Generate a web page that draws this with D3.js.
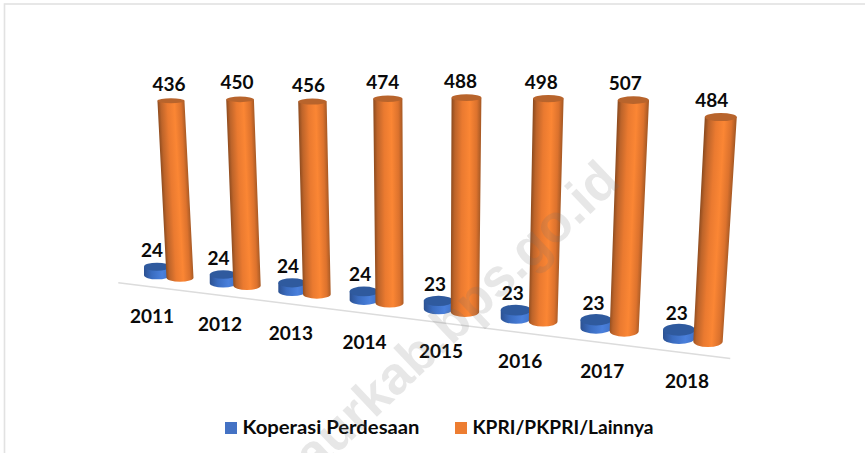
<!DOCTYPE html>
<html><head><meta charset="utf-8">
<script src="https://cdn.jsdelivr.net/npm/d3@7"></script>
<style>html,body{margin:0;padding:0;background:#fff}svg{display:block}text{font-family:Lato,Carlito,sans-serif;font-weight:700;fill:#0a0a0a}</style>
</head><body><svg id="c" width="865" height="453"></svg>
<script>
const years = ["2011","2012","2013","2014","2015","2016","2017","2018"];
const koperasi = [24,24,24,24,23,23,23,23];
const kpri = [436,450,456,474,488,498,507,484];
const seriesNames = ["Koperasi Perdesaan","KPRI/PKPRI/Lainnya"];
const watermark = "aurkab.bps.go.id";

const svg = d3.select("#c");
const defs = svg.append("defs");
const last = years.length - 1;
const depth = i => i * (1 + 0.0213 * i);

// perspective floor: category index -> position along the slanted axis
const xBase = d3.scaleLinear().domain([depth(0), depth(last)]).range([180, 708]);
const yEdge = d3.scaleLinear().domain([180, 708]).range([281.7, 347]);
const byIdx = d3.scaleLinear().domain([0, last]);
const pxPerUnit = byIdx.copy().range([0.415, 0.475]);
const lean = d3.scaleLinear().domain([430, 930]).range([0, 0.1]);
const orangeWB = byIdx.copy().range([13.5, 14.7]);
const orangeWT = byIdx.copy().range([13.5, 16]);
const orangeRyB = byIdx.copy().range([4, 5.5]);
const orangeRyT = byIdx.copy().range([2.6, 4]);
const blueOff = byIdx.copy().range([-23, -29]);
const blueW = byIdx.copy().range([13, 16]);
const blueRy = byIdx.copy().range([4, 6]);
const blueLift = byIdx.copy().range([2.4, 3]);
const blueK = 0.36;

// frame
svg.append("rect").attr("x",4.5).attr("y",4).attr("width",880).attr("height",480)
  .attr("fill","none").attr("stroke","#e2e2e2").attr("stroke-width",1.6);

// floor axis
const floorAt = i => { const x = xBase(depth(i)); return [x, yEdge(x) + 8.7]; };
svg.append("line")
  .attr("x1",floorAt(-0.96)[0]).attr("y1",floorAt(-0.96)[1])
  .attr("x2",floorAt(7.26)[0]).attr("y2",floorAt(7.26)[1])
  .attr("stroke","#dcdcdc").attr("stroke-width",1.4);

function gradient(id, x1,y1,x2,y2, stops){
  const g = defs.append("linearGradient").attr("id",id).attr("gradientUnits","userSpaceOnUse")
    .attr("x1",x1).attr("y1",y1).attr("x2",x2).attr("y2",y2);
  stops.forEach(s=>g.append("stop").attr("offset",s[0]).attr("stop-color",s[1]));
}
const orangeStops = [[0,"#8f4c1f"],[0.12,"#bd642a"],[0.36,"#ea7a30"],[0.62,"#fb8634"],[0.86,"#dc722d"],[1,"#a85a25"]];
const blueStops = [[0,"#2c5191"],[0.3,"#3a6cc0"],[0.7,"#4a80dc"],[1,"#3f72c8"]];

function cylinder(id, cxB, cyB, wB, ryB, cxT, cyT, wT, ryT, stops, topFill){
  const dx = cxT-cxB, dy = cyT-cyB, L = Math.hypot(dx,dy);
  const nx = -dy/L, ny = dx/L;
  const mx=(cxB+cxT)/2, my=(cyB+cyT)/2, mw=(wB+wT)/2;
  gradient(id, mx-nx*mw, my-ny*mw, mx+nx*mw, my+ny*mw, stops);
  svg.append("path").attr("fill",`url(#${id})`)
    .attr("d",`M${cxT-wT},${cyT} L${cxT+wT},${cyT} L${cxB+wB},${cyB} A${wB},${ryB} 0 0 1 ${cxB-wB},${cyB} Z`);
  svg.append("ellipse").attr("cx",cxT).attr("cy",cyT).attr("rx",wT).attr("ry",ryT).attr("fill",topFill);
}

years.forEach((y,i)=>{
  const bx = xBase(depth(i)), edge = yEdge(bx);
  // blue
  const bcx = bx + blueOff(i), bEdge = edge - blueLift(i), ry = blueRy(i);
  const bBase = bEdge - ry, bTop = bBase - koperasi[i]*blueK;
  cylinder("b"+i, bcx,bBase,blueW(i),ry, bcx,bTop,blueW(i),ry, blueStops, "#2f5a9e");
  // orange
  const h = kpri[i]*pxPerUnit(i);
  const ryB = orangeRyB(i);
  const topY = edge - h;
  const topX = bx + lean(bx)*h;
  cylinder("o"+i, bx,edge-ryB,orangeWB(i),ryB, topX,topY,orangeWT(i),orangeRyT(i), orangeStops, "#b8642c");
  // labels
  svg.append("text").attr("class","val").attr("x",topX-2-i).attr("y",topY-10).attr("text-anchor","middle").text(kpri[i]);
  svg.append("text").attr("class","val").attr("x",bcx-5+i*0.4).attr("y",bTop-10).attr("text-anchor","middle").text(koperasi[i]);
  svg.append("text").attr("class","cat").attr("x",bx-28+i).attr("y",edge+41).attr("text-anchor","middle").text(y);
});
svg.selectAll("text.val,text.cat").attr("font-size",19);

// legend
const legendX = [225,455], legendTextX=[242.5,472.5], legendFill=["#4472c4","#ed7d31"], legendW=[177,181];
seriesNames.forEach((n,i)=>{
  svg.append("rect").attr("x",legendX[i]).attr("y",422).attr("width",12).attr("height",12).attr("fill",legendFill[i]);
  svg.append("text").attr("x",legendTextX[i]).attr("y",433.5).attr("font-size",18.5)
    .attr("textLength",legendW[i]).attr("lengthAdjust","spacingAndGlyphs").text(n);
});

// watermark
svg.append("text").attr("transform","translate(622,184) rotate(-43.5)")
  .attr("text-anchor","end").attr("font-size",53)
  .style("font-family","'Liberation Sans',sans-serif").style("font-weight",700)
  .style("fill","rgba(110,110,110,0.17)").text(watermark);
</script></body></html>
